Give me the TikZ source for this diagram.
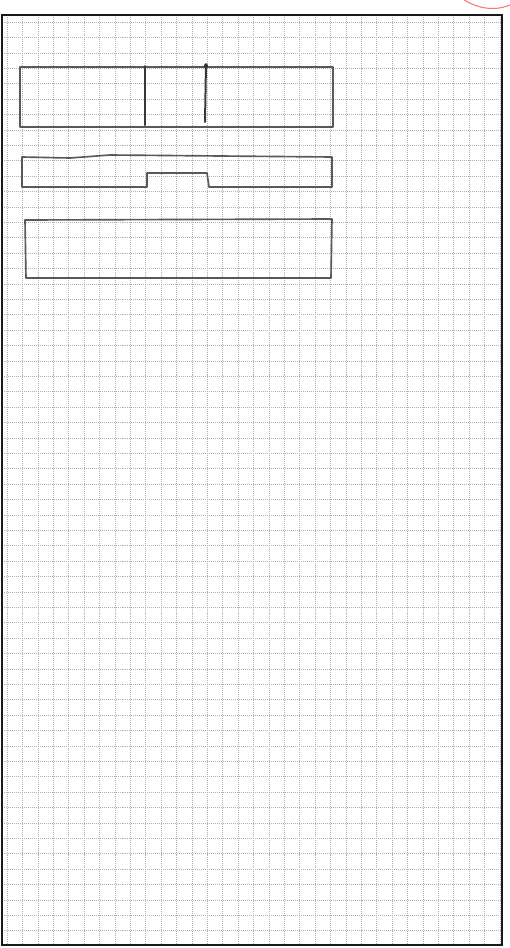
\documentclass[tikz,border=0pt]{standalone}
\usepackage{tikz}
\usetikzlibrary{calc}

\begin{document}
\begin{tikzpicture}[
  x=0.03cm,y=-0.03cm,
  gridline/.style={draw=black!30,line width=0.35pt,dash pattern=on 0.8pt off 0.9pt},
  frame/.style={draw=black!90,line width=1.8pt},
  pencil/.style={draw=black!65,line width=1.4pt,line join=round,line cap=round},
  divider/.style={draw=black!78,line width=1.7pt,line cap=round},
  penmark/.style={draw=red!55!white,line width=0.9pt}
]
\useasboundingbox (0,0) rectangle (510,948);
\fill[white] (0,0) rectangle (510,948);
% Grid paper
\foreach \gx in {0,...,32}{
  \draw[gridline] ({7+15.4*\gx},15) -- ({7+15.4*\gx},945);
}
\foreach \gy in {0,...,59}{
  \draw[gridline] (2,{22+15.4*\gy}) -- (502,{22+15.4*\gy});
}
% Page frame
\draw[frame] (2,15) rectangle (502,945);
\draw[penmark] (464,0) .. controls (485,12) and (500,9) .. (510,5);
% Top box, split in three
\coordinate (TL) at (20,67);
\coordinate (BR) at (333,127);
\draw[pencil] (TL) rectangle (BR);
\draw[divider] (145,66) -- (145,125);
\draw[divider] (206,64) -- (205,122);
\fill[black!80] (206,66) circle (2.2);
% Middle strip with notch
\draw[pencil] (22,157) -- (70,158) -- (110,155) -- (332,157) -- (332,187)
  -- (209,187) -- (207,173) -- (147,173) -- (147,187) -- (22,187) -- cycle;
% Bottom box
\draw[pencil] (25,220) -- (332,219) -- (331,278) -- (26,278) -- cycle;
\end{tikzpicture}
\end{document}
